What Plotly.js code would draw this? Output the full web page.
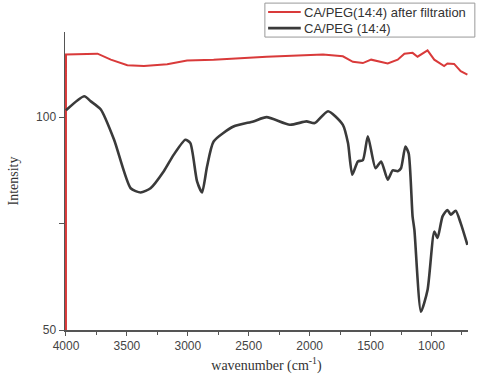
<!DOCTYPE html>
<html>
<head>
<meta charset="utf-8">
<script src="https://cdn.plot.ly/plotly-3.0.1.min.js"></script>
<style>body{margin:0;background:#fff}#chart{width:480px;height:382px}</style>
</head>
<body>
<div id="chart"></div>
<script>
var filteredWavenumber = [4000, 4000, 3741, 3632, 3496, 3360, 3169, 3006, 2788, 2353, 1890, 1727, 1645, 1563, 1495, 1359, 1277, 1222, 1155, 1114, 1032, 977, 896, 869, 814, 760, 705];
var filteredIntensity = [40, 114.7, 114.9, 113.5, 112.2, 112.0, 112.4, 113.3, 113.5, 114.2, 114.7, 114.3, 113.0, 112.7, 113.5, 112.6, 113.5, 114.9, 115.1, 114.2, 115.7, 113.5, 112.0, 112.6, 112.5, 110.8, 110.0];

var rawWavenumber = [4000, 3850, 3796, 3714, 3605, 3469, 3387, 3306, 3197, 3115, 3020, 2979, 2924, 2883, 2842, 2788, 2625, 2462, 2353, 2162, 2026, 1958, 1849, 1727, 1685, 1650, 1604, 1563, 1522, 1459, 1413, 1359, 1318, 1277, 1250, 1214, 1187, 1155, 1140, 1086, 1032, 977, 950, 909, 869, 841, 801, 760, 705];
var rawIntensity = [101.6, 104.9, 103.7, 101.8, 94.7, 83.3, 82.3, 83.3, 87.3, 91.2, 94.7, 93.9, 84.9, 82.3, 88.4, 94.3, 97.8, 99.0, 100.0, 98.2, 99.0, 98.6, 101.4, 98.2, 93.9, 86.5, 89.6, 89.9, 95.5, 88.0, 89.6, 85.3, 87.5, 87.3, 88.0, 93.1, 91.5, 76.7, 73.5, 54.3, 59.4, 73.1, 71.6, 76.7, 78.2, 77.1, 78.0, 75.1, 70.0];

var seriesNames = ["CA/PEG(14:4) after filtration", "CA/PEG (14:4)"];
var seriesColors = ["#d93a3a", "#3a3a3a"];
var xTickVals = [4000, 3500, 3000, 2500, 2000, 1500, 1000];
var xMinorVals = [3750, 3250, 2750, 2250, 1750, 1250, 750];
var yTickVals = [50, 100];
var yMinorVals = [75];

var traces = [
  {x: filteredWavenumber, y: filteredIntensity, mode: "lines", name: seriesNames[0],
   line: {color: seriesColors[0], width: 2}},
  {x: rawWavenumber, y: rawIntensity, mode: "lines", name: seriesNames[1],
   line: {color: seriesColors[1], width: 2.6, shape: "spline", smoothing: 0.6}}
];

// hand-drawn legend box (paper coordinates)
var legendRows = [1.067, 1.013];
var shapes = [
  {type: "rect", xref: "paper", yref: "paper", x0: 0.496, x1: 1.017, y0: 0.983, y1: 1.097,
   line: {color: "#999", width: 1}, fillcolor: "#fff", layer: "above"}
];
var annotations = [];
seriesNames.forEach(function (nm, i) {
  shapes.push({type: "line", xref: "paper", yref: "paper", x0: 0.504, x1: 0.585,
    y0: legendRows[i], y1: legendRows[i], line: {color: seriesColors[i], width: i ? 2.6 : 2}, layer: "above"});
  annotations.push({xref: "paper", yref: "paper", x: 0.588, y: legendRows[i], xanchor: "left", yanchor: "middle",
    text: nm, showarrow: false,
    font: {family: "Liberation Sans, Arial, sans-serif", size: 13, color: "#333"}});
});

var layout = {
  width: 480, height: 382,
  margin: {l: 65, r: 12, t: 32, b: 52, autoexpand: false},
  paper_bgcolor: "#fff", plot_bgcolor: "#fff",
  showlegend: false,
  shapes: shapes,
  annotations: annotations,
  xaxis: {range: [4008, 700], tickvals: xTickVals, ticks: "outside", ticklen: 4,
    tickcolor: "#555", showline: true, linecolor: "#555", linewidth: 1.5,
    showgrid: false, zeroline: false, layer: "below traces",
    tickfont: {family: "Liberation Sans, Arial, sans-serif", size: 12, color: "#444"},
    minor: {tickvals: xMinorVals, ticks: "outside", ticklen: 3, tickcolor: "#555"},
    title: {text: "wavenumber (cm<sup>-1</sup>)", standoff: 8,
      font: {family: "Liberation Serif, Times New Roman, serif", size: 14, color: "#333"}}},
  yaxis: {range: [50, 120], tickvals: yTickVals, ticks: "outside", ticklen: 5,
    tickcolor: "#555", showline: true, linecolor: "#555", linewidth: 1.5,
    showgrid: false, zeroline: false, layer: "below traces",
    tickfont: {family: "Liberation Sans, Arial, sans-serif", size: 12, color: "#444"},
    minor: {tickvals: yMinorVals, ticks: "outside", ticklen: 5, tickcolor: "#555"},
    title: {text: "Intensity", standoff: 14,
      font: {family: "Liberation Serif, Times New Roman, serif", size: 14, color: "#333"}}}
};

Plotly.newPlot("chart", traces, layout, {displayModeBar: false, staticPlot: true});
</script>
</body>
</html>
